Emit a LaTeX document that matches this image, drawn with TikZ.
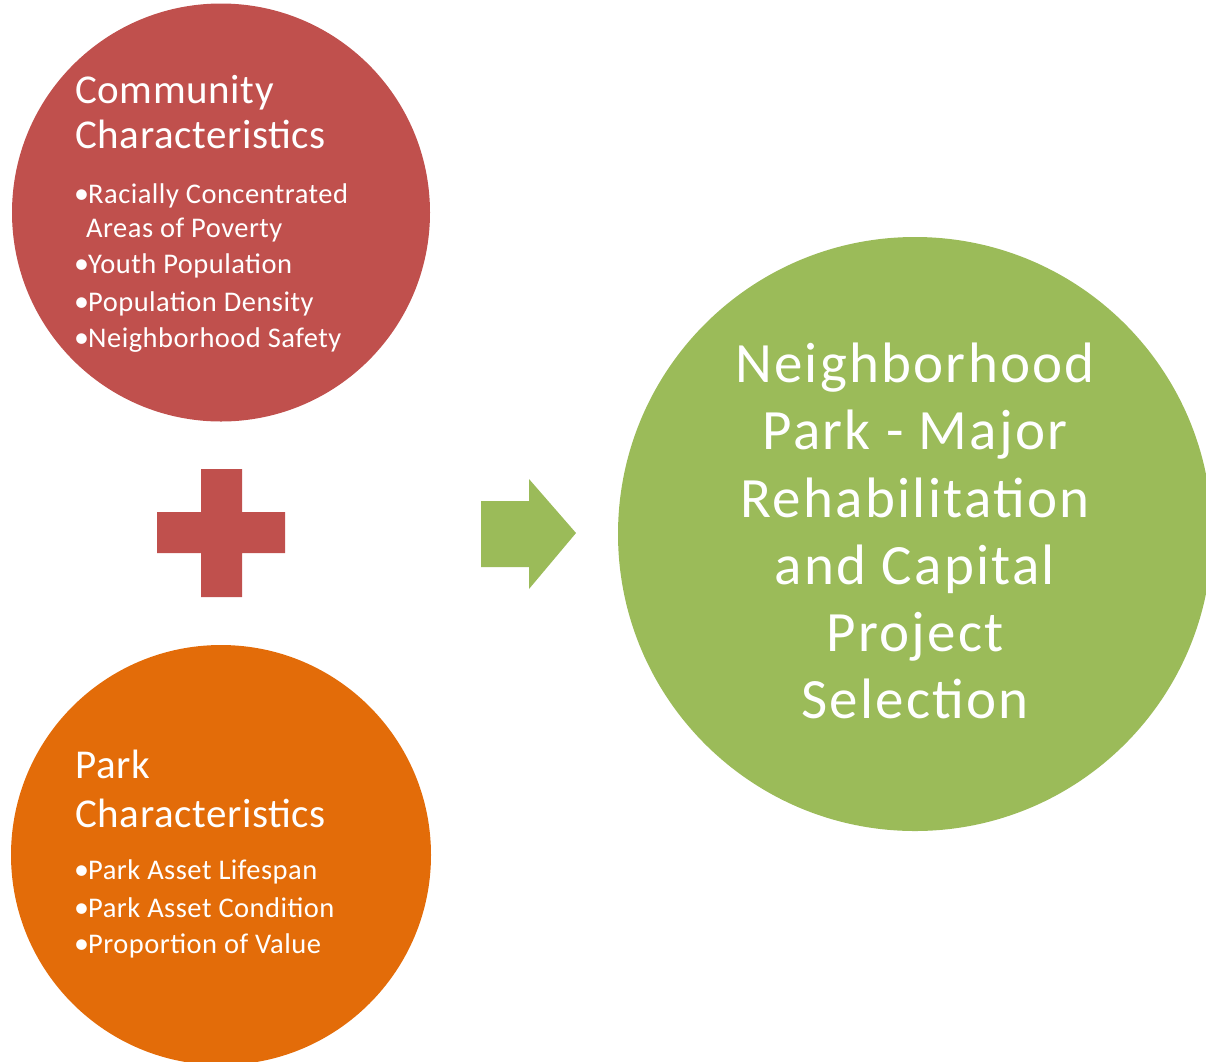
\documentclass[tikz,border=0pt]{standalone}
\usepackage{fontspec}
\setmainfont{Carlito}
\newfontfamily\titlefont[LetterSpace=1.5]{Carlito}
\newfontfamily\itemfont[LetterSpace=1.7]{Carlito}
\newfontfamily\bigfont[LetterSpace=4]{Carlito}
\definecolor{cred}{HTML}{C0504D}
\definecolor{corange}{HTML}{E36C09}
\definecolor{cgreen}{HTML}{9BBB59}
\begin{document}
\begin{tikzpicture}[x=1pt,y=-1pt,
  disc/.style={circle, inner sep=0pt, draw=none},
  title/.style={anchor=base west, inner sep=0pt, text=white, font=\titlefont\fontsize{41}{45}\selectfont},
  item/.style={anchor=base west, inner sep=0pt, text=white, font=\itemfont\fontsize{28.5}{32}\selectfont},
  bul/.style={anchor=base west, inner sep=0pt, text=white, font=\fontsize{30}{32}\selectfont},
  big/.style={anchor=base, inner sep=0pt, text=white, font=\bigfont\fontsize{57}{60}\selectfont}]
\useasboundingbox (0,0) rectangle (1206,1061);
\clip (0,0) rectangle (1206,1061);
% circles
\node[disc, fill=cred, minimum size=418pt] (comm) at (221,212.5) {};
\node[disc, fill=corange, minimum size=420pt] (park) at (221,855) {};
\node[disc, fill=cgreen, minimum size=594pt] (sel) at (915,534) {};
% plus sign
\fill[cred] (201,469) -- (242,469) -- (242,512) -- (285,512) -- (285,553) -- (242,553)
  -- (242,597) -- (201,597) -- (201,553) -- (157,553) -- (157,512) -- (201,512) -- cycle;
% arrow
\fill[cgreen] (481,501) -- (529,501) -- (529,479) -- (576,533) -- (529,589) -- (529,567)
  -- (481,567) -- cycle;
% community text
\node[title] (ct1) at (75,103) {Community};
\node[title] (ct2) at (75,148) {Characteristics};
\node[bul] (cb1) at (74,203) {•};
\node[item] (ci1) at (88,203) {Racially Concentrated};
\node[item] (ci1b) at (86,237) {Areas of Poverty};
\node[bul] (cb2) at (74,273) {•};
\node[item] (ci2) at (88,273) {Youth Population};
\node[bul] (cb3) at (74,311) {•};
\node[item] (ci3) at (88,311) {Population Density};
\node[bul] (cb4) at (74,347) {•};
\node[item] (ci4) at (88,347) {Neighborhood Safety};
% park text
\node[title] (pt1) at (75,778) {Park};
\node[title] (pt2) at (75,827) {Characteristics};
\node[bul] (pb1) at (74,879) {•};
\node[item] (pi1) at (88,879) {Park Asset Lifespan};
\node[bul] (pb2) at (74,917) {•};
\node[item] (pi2) at (88,917) {Park Asset Condition};
\node[bul] (pb3) at (74,953) {•};
\node[item] (pi3) at (88,953) {Proportion of Value};
% result text
\node[big] (s1) at (915,382) {Neighborhood};
\node[big] (s2) at (915,449) {Park - Major};
\node[big] (s3) at (915,517) {Rehabilitation};
\node[big] (s4) at (915,584) {and Capital};
\node[big] (s5) at (915,651) {Project};
\node[big] (s6) at (915,718) {Selection};
\end{tikzpicture}
\end{document}
